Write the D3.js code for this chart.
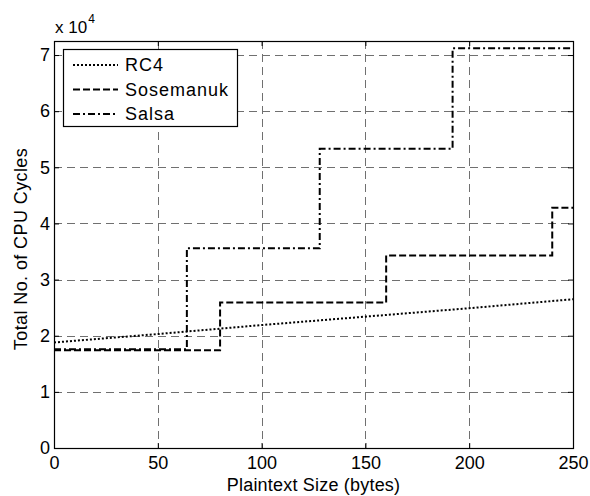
<!DOCTYPE html>
<html><head><meta charset="utf-8">
<script src="https://cdn.jsdelivr.net/npm/d3@7"></script>
<style>body{margin:0;background:#fff}svg{display:block}text{font-family:Arial,"Liberation Sans",sans-serif;fill:#000}</style>
</head><body><div id="chart"></div>
<script>
const xTicks = [0, 50, 100, 150, 200, 250];
const yTicks = [0, 1, 2, 3, 4, 5, 6, 7];
const seriesNames = ["RC4", "Sosemanuk", "Salsa"];
const rc4X = [0, 50, 100, 150, 200, 250];
const rc4Y = [1.88, 2.03, 2.19, 2.34, 2.49, 2.65];
const soseX = [0, 80, 80, 160, 160, 240, 240, 250];
const soseY = [1.74, 1.74, 2.59, 2.59, 3.43, 3.43, 4.28, 4.28];
const salsaX = [0, 64, 64, 128, 128, 192, 192, 250];
const salsaY = [1.76, 1.76, 3.56, 3.56, 5.33, 5.33, 7.12, 7.12];

const W = 590, H = 496;
const L = 54, R = 573, T = 41, B = 448;
const svg = d3.select("#chart").append("svg").attr("width", W).attr("height", H);
const x = d3.scaleLinear().domain([0, 250]).range([L, R]);
const y = d3.scaleLinear().domain([0, 7.25]).range([B, T]);

// grid
const grid = svg.append("g").attr("stroke", "#707070").attr("stroke-width", 1).attr("stroke-dasharray", "8,5");
grid.selectAll(".gx").data(xTicks.slice(1, -1)).join("line")
  .attr("x1", d => Math.round(x(d)) + 0.5).attr("x2", d => Math.round(x(d)) + 0.5)
  .attr("y1", T).attr("y2", B);
grid.selectAll(".gy").data(yTicks.slice(1)).join("line")
  .attr("y1", d => Math.round(y(d)) + 0.5).attr("y2", d => Math.round(y(d)) + 0.5)
  .attr("x1", L).attr("x2", R);

// axes
const fs = "18px";
const xAxis = svg.append("g").attr("transform", `translate(0,${B})`)
  .call(d3.axisBottom(x).tickValues(xTicks).tickSize(-5).tickPadding(8));
const xAxisTop = svg.append("g").attr("transform", `translate(0,${T})`)
  .call(d3.axisTop(x).tickValues(xTicks).tickSize(-5).tickFormat(""));
const yAxis = svg.append("g").attr("transform", `translate(${L},0)`)
  .call(d3.axisLeft(y).tickValues(yTicks).tickSize(-5).tickPadding(4).tickFormat(d3.format("d")));
const yAxisR = svg.append("g").attr("transform", `translate(${R},0)`)
  .call(d3.axisRight(y).tickValues(yTicks).tickSize(-5).tickFormat(""));
[xAxis, xAxisTop, yAxis, yAxisR].forEach(a => {
  a.select(".domain").remove();
  a.selectAll("line").attr("stroke", "#000");
  a.selectAll("text").style("font-size", fs).style("font-family", "Arial, 'Liberation Sans', sans-serif");
});
svg.append("rect").attr("x", L + 0.5).attr("y", T + 0.5).attr("width", R - L).attr("height", B - T)
  .attr("fill", "none").attr("stroke", "#000").attr("stroke-width", 1.2);

// lines
const line = d3.line().x(d => x(d[0])).y(d => y(d[1]));
const styles = {RC4: "2,2", Sosemanuk: "7,3", Salsa: "7,3,2,3"};
const data = {
  RC4: rc4X.map((v, i) => [v, rc4Y[i]]),
  Sosemanuk: soseX.map((v, i) => [v, soseY[i]]),
  Salsa: salsaX.map((v, i) => [v, salsaY[i]])
};
seriesNames.forEach(n => {
  svg.append("path").datum(data[n]).attr("d", line).attr("fill", "none")
    .attr("stroke", "#000").attr("stroke-width", 2).attr("stroke-dasharray", styles[n]);
});

// legend
const lg = svg.append("g");
lg.append("rect").attr("x", 63.5).attr("y", 49.5).attr("width", 174).attr("height", 77)
  .attr("fill", "#fff").attr("stroke", "#000").attr("stroke-width", 1.2);
seriesNames.forEach((n, i) => {
  const yy = 65 + i * 24.5;
  lg.append("line").attr("x1", 73).attr("x2", 118).attr("y1", yy).attr("y2", yy)
    .attr("stroke", "#000").attr("stroke-width", 2).attr("stroke-dasharray", styles[n]);
  lg.append("text").attr("x", 125).attr("y", yy).attr("dy", "0.36em").style("font-size", "18px")
    .style("letter-spacing", "1px").text(n);
});

// labels
svg.append("text").attr("x", (L + R) / 2).attr("y", 491).attr("text-anchor", "middle")
  .style("font-size", fs).style("letter-spacing", "0.2px").text("Plaintext Size (bytes)");
svg.append("text").attr("transform", `translate(26.5,249) rotate(-90)`).attr("text-anchor", "middle")
  .style("font-size", fs).style("letter-spacing", "0.4px").text("Total No. of CPU Cycles");
const ex = svg.append("text").attr("x", 55).attr("y", 33).style("font-size", "17px");
ex.append("tspan").text("x 10");
ex.append("tspan").attr("dy", -10).attr("dx", 1).style("font-size", "12px").text("4");
</script></body></html>
